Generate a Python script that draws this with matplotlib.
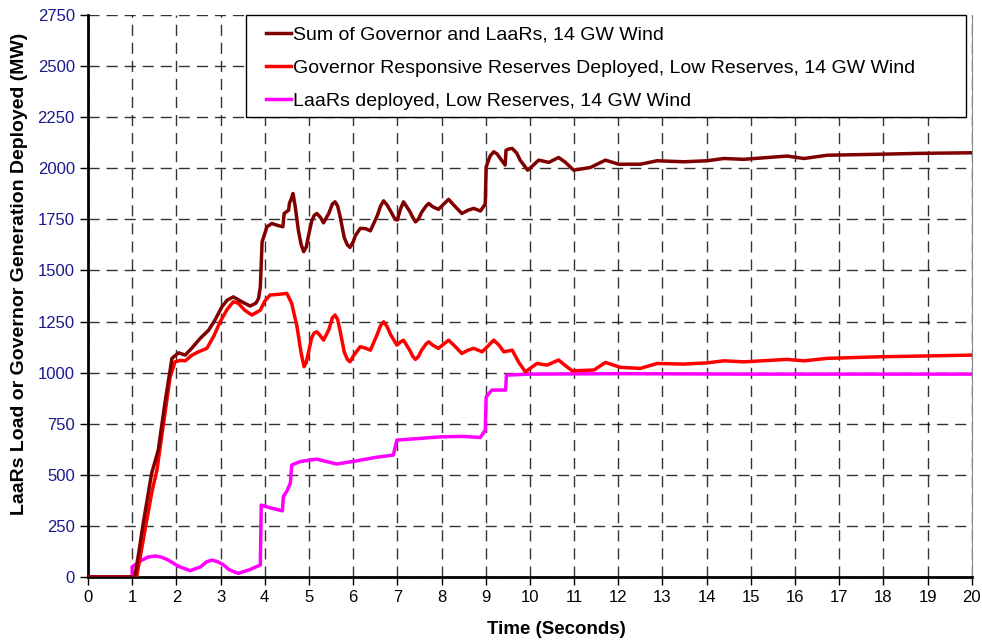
#!/usr/bin/env python3
"""
Governor and LaaRs reserves deployed after a disturbance, 14 GW wind case.
"""
import matplotlib
matplotlib.use('Agg')
import matplotlib.pyplot as plt
from matplotlib.patches import Rectangle

plt.rcParams['font.family'] = ['Liberation Sans', 'DejaVu Sans']

# Sum of Governor and LaaRs (MW)
sum_t = [0, 1.06, 1.15, 1.25, 1.44, 1.59, 1.74, 1.9, 2.05, 2.2, 2.35, 2.54,
         2.73, 2.88, 3.03, 3.15, 3.29, 3.48, 3.67, 3.8, 3.86, 3.9, 3.94, 4.05,
         4.16, 4.3, 4.41, 4.44, 4.54, 4.56, 4.6, 4.64, 4.69, 4.76, 4.82, 4.88,
         4.94, 4.98, 5.06, 5.12, 5.18, 5.26, 5.33, 5.45, 5.53, 5.59, 5.65, 5.7,
         5.8, 5.87, 5.93, 6.0, 6.05, 6.16, 6.28, 6.39, 6.55, 6.62, 6.69, 6.77,
         6.85, 6.95, 7.0, 7.07, 7.14, 7.28, 7.35, 7.41, 7.48, 7.55, 7.65, 7.71,
         7.8, 7.93, 8.05, 8.16, 8.3, 8.46, 8.6, 8.73, 8.88, 8.99, 9.01, 9.1,
         9.18, 9.26, 9.33, 9.44, 9.46, 9.53, 9.6, 9.7, 9.78, 9.95, 10.05, 10.2,
         10.43, 10.65, 10.8, 10.99, 11.37, 11.71, 12.01, 12.5, 12.88, 13.48,
         14.01, 14.39, 14.84, 15.82, 16.2, 16.73, 17.94, 18.77, 20]
sum_mw = [0, 0, 120, 263, 507, 621, 850, 1070, 1097, 1086, 1120, 1168,
          1208, 1260, 1322, 1355, 1371, 1347, 1326, 1340, 1363, 1420, 1640,
          1714, 1730, 1720, 1714, 1779, 1795, 1830, 1850, 1877, 1812, 1698,
          1630, 1592, 1615, 1660, 1740, 1770, 1779, 1760, 1733, 1780, 1825,
          1836, 1815, 1770, 1660, 1625, 1613, 1640, 1670, 1706, 1705, 1694,
          1770, 1815, 1841, 1820, 1790, 1750, 1747, 1800, 1836, 1790, 1760,
          1738, 1752, 1785, 1815, 1828, 1812, 1799, 1825, 1848, 1815, 1779,
          1795, 1804, 1791, 1825, 2007, 2060, 2081, 2070, 2048, 2016, 2089,
          2095, 2097, 2075, 2040, 1991, 2010, 2040, 2029, 2053, 2030, 1991,
          2004, 2040, 2020, 2020, 2037, 2032, 2037, 2048, 2044, 2060, 2048,
          2064, 2069, 2073, 2076]

# Governor responsive reserves deployed (MW)
gov_t = [0, 1.1, 1.2, 1.33, 1.45, 1.56, 1.71, 1.86, 1.97, 2.08, 2.2, 2.35,
         2.5, 2.69, 2.85, 2.99, 3.15, 3.29, 3.4, 3.55, 3.71, 3.9, 4.0, 4.12,
         4.3, 4.5, 4.61, 4.73, 4.82, 4.89, 4.94, 4.98, 5.06, 5.12, 5.18, 5.26,
         5.33, 5.45, 5.53, 5.59, 5.65, 5.7, 5.8, 5.87, 5.93, 6.0, 6.05, 6.16,
         6.28, 6.39, 6.55, 6.62, 6.69, 6.77, 6.85, 6.99, 7.07, 7.14, 7.28,
         7.35, 7.41, 7.48, 7.55, 7.65, 7.71, 7.8, 7.93, 8.05, 8.16, 8.3, 8.46,
         8.6, 8.73, 8.92, 9.05, 9.18, 9.3, 9.41, 9.6, 9.75, 9.9, 10.0, 10.16,
         10.39, 10.65, 10.8, 10.96, 11.45, 11.71, 12.05, 12.5, 12.88, 13.48,
         14.01, 14.39, 14.84, 15.82, 16.2, 16.73, 17.94, 18.77, 20]
gov_mw = [0, 0, 120, 279, 420, 523, 752, 980, 1053, 1060, 1058, 1085,
          1102, 1119, 1180, 1249, 1310, 1347, 1340, 1305, 1282, 1306, 1350,
          1380, 1383, 1388, 1339, 1225, 1100, 1029, 1050, 1090, 1170, 1195,
          1200, 1180, 1159, 1210, 1268, 1282, 1260, 1210, 1100, 1065, 1053,
          1080, 1095, 1127, 1120, 1110, 1190, 1230, 1249, 1225, 1185, 1135,
          1150, 1159, 1110, 1080, 1065, 1080, 1110, 1140, 1151, 1135, 1119,
          1140, 1159, 1130, 1094, 1110, 1119, 1102, 1130, 1159, 1135, 1102,
          1110, 1050, 1004, 1020, 1045, 1037, 1062, 1035, 1009, 1013, 1050,
          1026, 1021, 1045, 1042, 1048, 1058, 1053, 1065, 1058, 1070, 1078,
          1081, 1086]

# LaaRs deployed (MW)
laar_t = [0, 1.0, 1.0, 1.2, 1.35, 1.52, 1.65, 1.8, 2.05, 2.31, 2.55, 2.68,
          2.8, 2.92, 3.05, 3.2, 3.4, 3.65, 3.9, 3.92, 4.1, 4.4, 4.42, 4.5,
          4.58, 4.61, 4.8, 5.18, 5.4, 5.63, 6.09, 6.5, 6.91, 6.99, 7.5, 7.97,
          8.5, 8.88, 8.99, 9.01, 9.14, 9.45, 9.47, 10.0, 12, 15, 20]
laar_mw = [0, 0, 50, 80, 97, 103, 98, 85, 52, 31, 50, 74,
           83, 76, 62, 35, 18, 35, 59, 352, 340, 324, 393, 420,
           460, 548, 565, 577, 565, 553, 569, 585, 597, 670, 678, 686,
           688, 683, 719, 882, 915, 915, 988, 993, 995, 993, 993]

x_ticks = list(range(0, 21))
y_ticks = list(range(0, 2751, 250))

fig = plt.figure(figsize=(9.82, 6.43), dpi=100)
ax = fig.add_axes([0.0896, 0.1026, 0.9, 0.874])

ax.plot(laar_t, laar_mw, color='#FF00FF', lw=2.5, zorder=3,
        label='LaaRs deployed, Low Reserves, 14 GW Wind')
ax.plot(gov_t, gov_mw, color='#FF0000', lw=2.5, zorder=4,
        label='Governor Responsive Reserves Deployed, Low Reserves, 14 GW Wind')
ax.plot(sum_t, sum_mw, color='#800000', lw=2.5, zorder=5,
        label='Sum of Governor and LaaRs, 14 GW Wind')

ax.set_xlim(0, 20)
ax.set_ylim(0, 2750)
ax.set_xticks(x_ticks)
ax.set_yticks(y_ticks)
ax.tick_params(axis='both', direction='out', length=6, width=1, labelsize=12)
ax.tick_params(axis='y', labelcolor='#1a1a8c')
ax.grid(True, color='black', linestyle=(0, (8, 5)), linewidth=1, alpha=0.8)

for side in ('left', 'bottom'):
    ax.spines[side].set_linewidth(2)
ax.spines['top'].set_visible(False)
ax.spines['right'].set_color('#888888')

ax.set_xlabel('Time (Seconds)', fontsize=13.5, fontweight='bold')
ax.xaxis.set_label_coords(0.53, -0.078)
ax.set_ylabel('LaaRs Load or Governor Generation Deployed (MW)', fontsize=14,
              fontweight='bold')
ax.yaxis.set_label_coords(-0.068, 0.54)

# legend box spans from the top of the axes down to the 2250 gridline
ax.add_patch(Rectangle((0.179, 2250 / 2750), 0.815, 1 - 2250 / 2750,
                       transform=ax.transAxes, facecolor='white',
                       edgecolor='black', linewidth=1, zorder=9,
                       clip_on=False))

handles, labels = ax.get_legend_handles_labels()
leg = ax.legend(handles[::-1], labels[::-1], loc='upper left',
                bbox_to_anchor=(0.2016, 0.981), borderaxespad=0,
                borderpad=0, fontsize=14, handlelength=1.3,
                handletextpad=0.1, labelspacing=0.81, frameon=False)
leg.set_zorder(10)

plt.savefig('out.png', dpi=100)
